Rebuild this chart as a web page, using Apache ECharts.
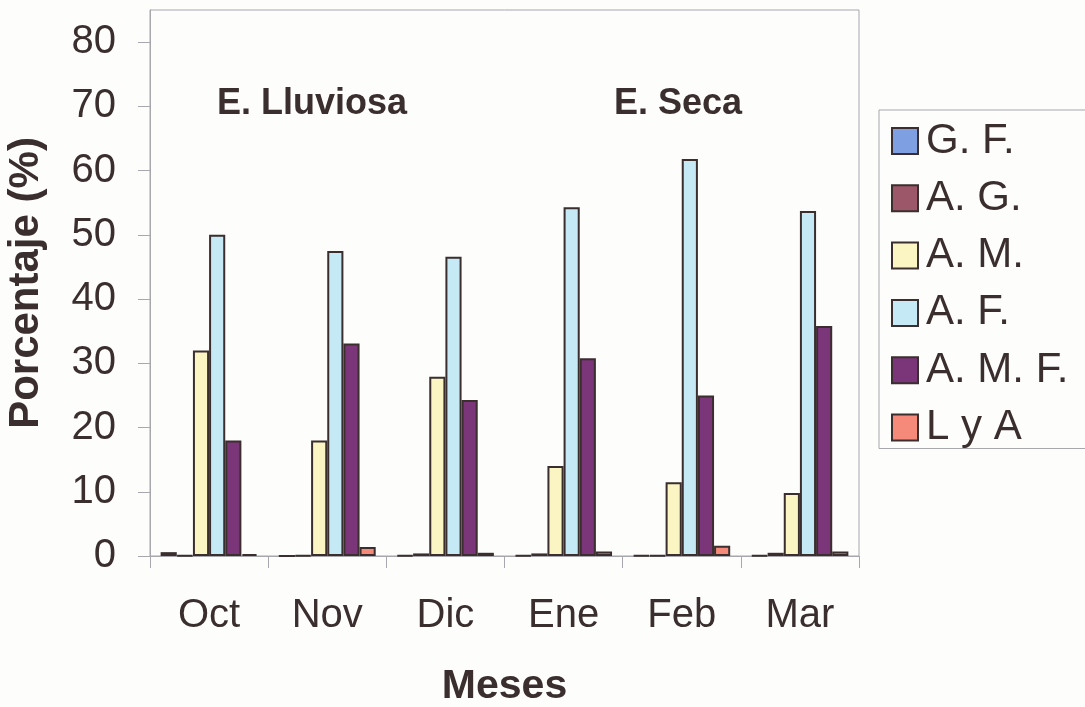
<!DOCTYPE html>
<html>
<head>
<meta charset="utf-8">
<script src="https://cdn.jsdelivr.net/npm/echarts@6/dist/echarts.min.js"></script>
<style>
  html, body { margin: 0; padding: 0; background: #fdfdfc; }
  #chart { width: 1085px; height: 707px; }
</style>
</head>
<body>
<div id="chart"></div>
<script>
// Months of the sampling period
const months = ['Oct', 'Nov', 'Dic', 'Ene', 'Feb', 'Mar'];

// Percentage per group and month
const gf  = [0.6, 0,    0.1,  0.1,  0.1,  0.1];   // G. F.
const ag  = [0.1, 0.1,  0.4,  0.4,  0.1,  0.5];   // A. G.
const am  = [32,  18,   27.9, 14,   11.5, 9.8];   // A. M.
const af  = [50,  47.5, 46.6, 54.3, 61.8, 53.7];  // A. F.
const amf = [18,  33.1, 24.3, 30.8, 25,   35.8];  // A. M. F.
const lya = [0.3, 1.4,  0.5,  0.7,  1.6,  0.7];   // L y A

const seriesNames = ['G. F.', 'A. G.', 'A. M.', 'A. F.', 'A. M. F.', 'L y A'];
const seriesData = [gf, ag, am, af, amf, lya];
const seriesColors = ['#7f9fe3', '#9c5868', '#faf5c3', '#c6eaf5', '#7b3579', '#f58a7a'];

// Y axis tick values
const yTicks = [0, 10, 20, 30, 40, 50, 60, 70, 80];

// Season labels drawn over the plot
const seasonLabels = ['E. Lluviosa', 'E. Seca'];

const FONT = 'Liberation Sans, Arial, sans-serif';
const INK = '#3a2e2e';
const AXIS = '#a7a7ad';

const chart = echarts.init(document.getElementById('chart'), null, { renderer: 'canvas' });

chart.setOption({
  backgroundColor: '#fdfdfc',
  animation: false,
  textStyle: { fontFamily: FONT, color: INK },
  grid: {
    left: 150, right: 226, top: 10, bottom: 151,
    outerBoundsMode: 'none',
    containLabel: false,
    show: true, borderColor: AXIS, borderWidth: 1, backgroundColor: 'transparent'
  },
  legend: {
    orient: 'vertical',
    left: 879, top: 110,
    padding: [10, 40, 0, 12],
    itemWidth: 26, itemHeight: 26, itemGap: 15.3,
    borderColor: AXIS, borderWidth: 1,
    icon: 'rect',
    itemStyle: { borderColor: INK, borderWidth: 2 },
    textStyle: { fontFamily: FONT, fontSize: 42, color: INK, padding: [0, 0, 0, 3] },
    data: seriesNames
  },
  xAxis: {
    type: 'category',
    data: months,
    boundaryGap: true,
    name: 'Meses',
    nameLocation: 'middle',
    nameGap: 110,
    nameTextStyle: { fontFamily: FONT, fontSize: 41, fontWeight: 'bold', color: INK },
    axisLine: { show: true, lineStyle: { color: AXIS, width: 1 } },
    axisTick: { show: true, length: 12, inside: false, lineStyle: { color: AXIS } },
    axisLabel: { fontFamily: FONT, fontSize: 40, color: INK, margin: 40 },
    splitLine: { show: false }
  },
  yAxis: {
    type: 'value',
    min: 0, max: 85, interval: 10,
    name: 'Porcentaje (%)',
    nameLocation: 'middle',
    nameGap: 103,
    nameTextStyle: { fontFamily: FONT, fontSize: 42, fontWeight: 'bold', color: INK },
    axisLine: { show: true, lineStyle: { color: AXIS, width: 1 } },
    axisTick: { show: true, length: 12, inside: false, lineStyle: { color: AXIS }, customValues: yTicks },
    axisLabel: { fontFamily: FONT, fontSize: 40, color: INK, margin: 34, customValues: yTicks },
    splitLine: { show: false }
  },
  graphic: [
    {
      type: 'text', left: 217, top: 86,
      style: { text: seasonLabels[0], font: 'bold 36px ' + FONT, fill: INK }
    },
    {
      type: 'text', left: 614, top: 86,
      style: { text: seasonLabels[1], font: 'bold 36px ' + FONT, fill: INK }
    }
  ],
  series: seriesNames.map((name, i) => ({
    name: name,
    type: 'bar',
    data: seriesData[i],
    barGap: '0%',
    barCategoryGap: '18%',
    itemStyle: { color: seriesColors[i], borderColor: INK, borderWidth: 2 }
  }))
});
</script>
</body>
</html>
